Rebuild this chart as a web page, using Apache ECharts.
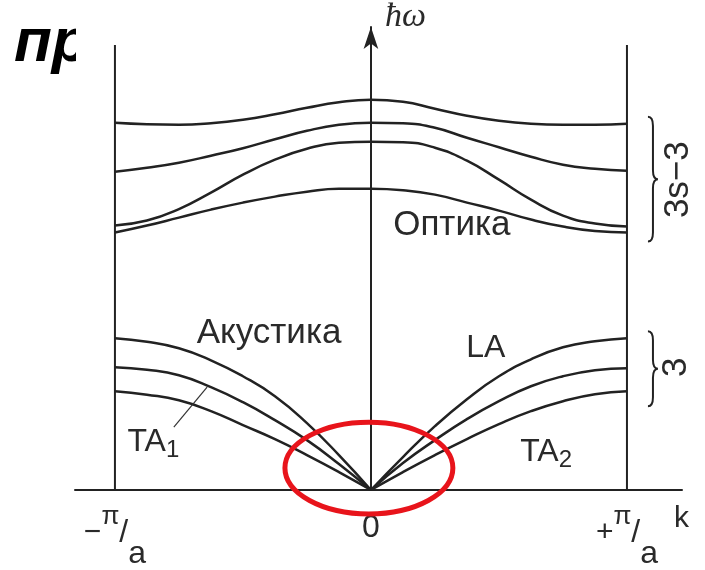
<!DOCTYPE html>
<html><head><meta charset="utf-8">
<script src="https://cdn.jsdelivr.net/npm/echarts@6/dist/echarts.min.js"></script>
<style>html,body{margin:0;padding:0;background:#fff}#c{width:705px;height:570px}</style>
</head><body><div id="c"></div>
<script>
// wave vector k in units of pi/a
const kGrid = [-1, -0.875, -0.75, -0.625, -0.5, -0.375, -0.25, -0.125, 0, 0.125, 0.25, 0.375, 0.5, 0.625, 0.75, 0.875, 1];
// optical branches (hbar*omega, arbitrary units)
const optical1 = [368, 366.5, 366, 367.5, 371, 376.5, 383, 388.5, 391, 389, 382, 375, 370, 367, 366, 366, 367];
const optical2 = [319, 323, 328, 335, 342.5, 351.5, 360, 366, 368, 367.5, 363, 353, 343.5, 334, 326, 322, 320];
const optical3 = [265, 270, 281.5, 298, 316, 331, 342, 348, 349, 348.5, 343, 330, 311, 291, 275, 267, 264];
const optical4 = [258, 265, 273, 281, 288, 294, 299, 302, 302, 300.5, 296, 288, 280, 271, 264, 259.5, 258];
// acoustic branches
const acousticLA = [152, 148.5, 142, 130, 114, 94, 67, 35, 0, 33, 64, 91, 114, 131, 143, 149, 152];
const acousticTA2 = [123, 120.5, 115, 103, 88, 70, 50, 26, 0, 27, 50, 71, 89, 104, 114, 120, 122];
const acousticTA1 = [99, 95.5, 90, 79, 65, 51, 35, 18, 0, 18, 35, 51, 66, 79, 89, 96, 99];
// Brillouin zone edges
const zoneEdges = [-1, 1];
const zoneEdgeTop = 446;
// axis
const kMin = -1.156, kMax = 1.215, wMax = 464;
const kTickValues = [-1, 0, 1];
const kTickLabels = [{sign: '−', num: 'π', den: 'a'}, {text: '0'}, {sign: '+', num: 'π', den: 'a'}];
// annotations
const branchLabels = [
  {text: 'Оптика', k: 0.316, w: 265},
  {text: 'Акустика', k: -0.398, w: 157},
  {text: 'LA', k: 0.449, w: 142},
  {text: 'TA', sub: '1', k: -0.85, w: 48},
  {text: 'TA', sub: '2', k: 0.684, w: 38},
  {text: '3s−3', k: 1.199, w: 311, vertical: true},
  {text: '3', k: 1.193, w: 123, vertical: true}
];
const braces = [[1.082, 249, 374], [1.082, 84, 159]];
const highlight = [[-0.008, 22, 0.328, 46]];
const ta1Leader = [[-0.77, 63], [-0.64, 103]];

const LINE = '#222';
const TXT = '#2a2a2a';
const FONT = '"Liberation Sans", Arial, sans-serif';

function pairs(ks, ws) { return ks.map((k, i) => [k, ws[i]]); }

const series = [];
[optical1, optical2, optical3, optical4].forEach(arr => {
  series.push({type: 'line', data: pairs(kGrid, arr), smooth: 0.5, symbol: 'none',
    lineStyle: {color: LINE, width: 2.5}, silent: true});
});
const mid = kGrid.indexOf(0);
[acousticLA, acousticTA2, acousticTA1].forEach(arr => {
  const all = pairs(kGrid, arr);
  series.push({type: 'line', data: all.slice(0, mid + 1), smooth: 0.5, symbol: 'none',
    lineStyle: {color: LINE, width: 2.5}, silent: true});
  series.push({type: 'line', data: all.slice(mid), smooth: 0.5, symbol: 'none',
    lineStyle: {color: LINE, width: 2.5}, silent: true});
});
zoneEdges.forEach(k => {
  series.push({type: 'line', data: [[k, 0], [k, zoneEdgeTop]], symbol: 'none',
    lineStyle: {color: LINE, width: 2}, silent: true});
});
series.push({type: 'line', data: ta1Leader, symbol: 'none', lineStyle: {color: '#333', width: 1.2}, silent: true});
series.push({
  type: 'scatter', symbolSize: 2, itemStyle: {color: 'rgba(255,255,255,0)', opacity: 1}, silent: true, z: 5,
  data: branchLabels.map(b => {
    const big = /[А-я]/.test(b.text) ? 35 : (b.vertical ? 35 : 32);
    return {
      value: [b.k, b.w],
      label: {
        show: true, position: 'inside', rotate: b.vertical ? 90 : 0,
        color: TXT, textBorderWidth: 0,
        formatter: b.sub ? '{t|' + b.text + '}{s|' + b.sub + '}' : '{t|' + b.text + '}',
        rich: {
          t: {fontFamily: FONT, fontSize: big, color: TXT, verticalAlign: 'middle', lineHeight: 40, textBorderWidth: 0},
          s: {fontFamily: FONT, fontSize: 24, color: TXT, verticalAlign: 'bottom', lineHeight: 16, textBorderWidth: 0}
        }
      }
    };
  })
});
series.push({
  type: 'custom', data: braces, silent: true, clip: false,
  renderItem(params, api) {
    const top = api.coord([api.value(0), api.value(2)]);
    const bot = api.coord([api.value(0), api.value(1)]);
    const x = top[0], y1 = top[1], y2 = bot[1], w = 10, q = 9, m = (y1 + y2) / 2, h = w / 2;
    const d = `M${x} ${y1} Q${x + h} ${y1} ${x + h} ${y1 + q} L${x + h} ${m - q} Q${x + h} ${m} ${x + w} ${m} Q${x + h} ${m} ${x + h} ${m + q} L${x + h} ${y2 - q} Q${x + h} ${y2} ${x} ${y2}`;
    return {type: 'path', shape: {pathData: d}, style: {fill: 'none', stroke: LINE, lineWidth: 2}};
  }
});
series.push({
  type: 'custom', data: highlight, silent: true, clip: false, z: 10,
  renderItem(params, api) {
    const c = api.coord([api.value(0), api.value(1)]);
    const s = api.size([api.value(2), api.value(3)]);
    const cx = c[0], cy = c[1], rx = s[0], ry = s[1], K = 0.5523;
    const d = `M${cx - rx} ${cy} C${cx - rx} ${cy - K * ry} ${cx - K * rx} ${cy - ry} ${cx} ${cy - ry} C${cx + K * rx} ${cy - ry} ${cx + rx} ${cy - K * ry} ${cx + rx} ${cy} C${cx + rx} ${cy + K * ry} ${cx + K * rx} ${cy + ry} ${cx} ${cy + ry} C${cx - K * rx} ${cy + ry} ${cx - rx} ${cy + K * ry} ${cx - rx} ${cy} Z`;
    return {type: 'path', shape: {pathData: d}, style: {fill: 'none', stroke: '#e8141b', lineWidth: 5}};
  }
});

const chart = echarts.init(document.getElementById('c'), null, {renderer: 'canvas'});
chart.setOption({
  animation: false,
  backgroundColor: '#fff',
  grid: {left: 75, right: 23, top: 27, bottom: 79},
  xAxis: {
    type: 'value', min: kMin, max: kMax,
    name: 'k', nameLocation: 'end', nameGap: -8,
    nameTextStyle: {fontFamily: FONT, fontSize: 30, color: TXT, align: 'left', verticalAlign: 'top', padding: [14, 0, 0, 0]},
    axisLine: {lineStyle: {color: LINE, width: 2}},
    axisTick: {show: false},
    splitLine: {show: false},
    axisLabel: {
      customValues: kTickValues, margin: 6,
      formatter: v => {
        const p = kTickLabels[kTickValues.indexOf(Math.round(v))];
        if (!p) return '';
        if (p.text) return '{z|' + p.text + '}';
        return '{m|' + p.sign + '}{p|' + p.num + '}{sl|/}{a|' + p.den + '}';
      },
      rich: {
        z: {fontFamily: FONT, fontSize: 32, color: TXT, lineHeight: 64, verticalAlign: 'middle'},
        m: {fontFamily: FONT, fontSize: 30, color: TXT, lineHeight: 74, verticalAlign: 'middle'},
        p: {fontFamily: FONT, fontSize: 26, color: TXT, lineHeight: 26, verticalAlign: 'top', padding: [8, 0, 0, 0]},
        sl: {fontFamily: FONT, fontSize: 32, color: TXT, lineHeight: 40, verticalAlign: 'middle'},
        a: {fontFamily: FONT, fontSize: 32, color: TXT, lineHeight: 34, verticalAlign: 'bottom'}
      }
    }
  },
  yAxis: {
    type: 'value', min: 0, max: wMax,
    name: 'ħω', nameLocation: 'end', nameGap: 10,
    nameTextStyle: {fontFamily: '"Liberation Serif", serif', fontStyle: 'italic', fontSize: 34, color: TXT, align: 'left', verticalAlign: 'middle', padding: [0, 0, 0, 14]},
    axisLine: {onZero: true, symbol: ['none', 'arrow'], symbolSize: [11, 22], lineStyle: {color: LINE, width: 2}},
    axisTick: {show: false}, axisLabel: {show: false}, splitLine: {show: false}
  },
  graphic: [
    {type: 'text', left: 14, top: 13, z: 1, style: {text: 'пр', font: 'italic bold 62px "Liberation Sans"', fill: '#000'}},
    {type: 'rect', left: 76, top: 10, z: 2, shape: {width: 34, height: 90}, style: {fill: '#fff'}}
  ],
  series
});
</script></body></html>
